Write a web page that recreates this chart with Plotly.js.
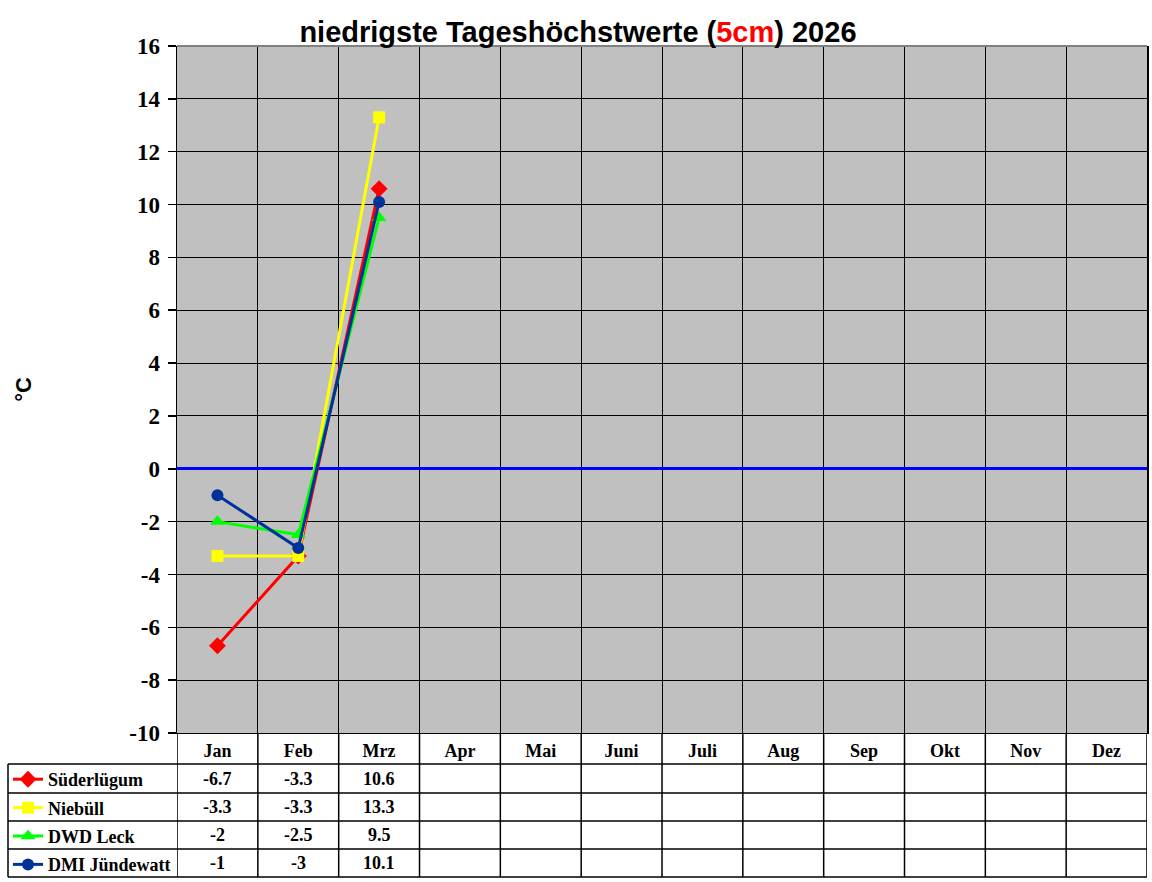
<!DOCTYPE html>
<html>
<head>
<meta charset="utf-8">
<script src="https://cdn.plot.ly/plotly-3.0.1.min.js"></script>
<style>
  html, body { margin: 0; padding: 0; background: #fff; }
  #plot { width: 1152px; height: 882px; }
</style>
</head>
<body>
<div id="plot"></div>
<script>
// months shown on the x axis / table header
const months = ['Jan', 'Feb', 'Mrz', 'Apr', 'Mai', 'Juni', 'Juli', 'Aug', 'Sep', 'Okt', 'Nov', 'Dez'];

// y axis ticks (labels use a plain hyphen like the original)
const yTickVals = [-10, -8, -6, -4, -2, 0, 2, 4, 6, 8, 10, 12, 14, 16];
const yTickText = ['-10', '-8', '-6', '-4', '-2', '0', '2', '4', '6', '8', '10', '12', '14', '16'];

// lowest daily maximum (5cm) per month, null = no data yet
const suederluegum = [-6.7, -3.3, 10.6, null, null, null, null, null, null, null, null, null];
const niebuell     = [-3.3, -3.3, 13.3, null, null, null, null, null, null, null, null, null];
const dwdLeck      = [-2, -2.5, 9.5, null, null, null, null, null, null, null, null, null];
const dmiJuendewatt = [-1, -3, 10.1, null, null, null, null, null, null, null, null, null];

const stations = [
    { name: 'Süderlügum', values: suederluegum, color: '#FF0000', symbol: 'diamond', size: 13 },
    { name: 'Niebüll', values: niebuell, color: '#FFFF00', symbol: 'square', size: 12 },
    { name: 'DWD Leck', values: dwdLeck, color: '#00FF00', symbol: 'triangle-up', size: 13 },
    { name: 'DMI Jündewatt', values: dmiJuendewatt, color: '#003399', symbol: 'circle', size: 12 }
];

const serif = 'Liberation Serif, Times New Roman, serif';
const sans = 'Liberation Sans, Arial, sans-serif';

// plot area geometry in paper coords (margins l=8, r=5, t=46, b=5)
const plotBottom = 0.17329;                               // y of the -10 line
const rowLines = [0.13598, 0.10108, 0.06739, 0.03369, 0];  // table row borders
const rowCenters = [0.11853, 0.08424, 0.05054, 0.01685];

let traces = stations.map((s, i) => ({
    x: months,
    y: s.values,
    type: 'scatter',
    mode: 'lines+markers',
    name: s.name,
    legendgroup: 'g' + i,
    line: { color: s.color, width: 3 },
    marker: { color: s.color, symbol: s.symbol, size: s.size },
    connectgaps: false,
    cliponaxis: false
}));

let shapes = [];
// horizontal table lines
rowLines.forEach(y => {
    shapes.push({ type: 'line', xref: 'paper', yref: 'paper', x0: 0, x1: 1, y0: y, y1: y,
        line: { color: '#000', width: 1.5 } });
});
// vertical lines through the table (month boundaries)
for (let k = 0; k <= months.length; k++) {
    shapes.push({ type: 'line', xref: 'x', yref: 'paper', x0: k - 0.5, x1: k - 0.5,
        y0: 0, y1: plotBottom, line: { color: '#000', width: 1.5 } });
}
// left border of legend column
shapes.push({ type: 'line', xref: 'paper', yref: 'paper', x0: 0, x1: 0, y0: 0, y1: rowLines[0],
    line: { color: '#000', width: 1.5 } });
// grey top border of the plot
shapes.push({ type: 'line', xref: 'paper', yref: 'paper', x0: 0.1484, x1: 1, y0: 1, y1: 1,
    line: { color: '#808080', width: 2 } });

// table values
let annotations = [];
stations.forEach((s, r) => {
    s.values.forEach((v, c) => {
        if (v === null) return;
        annotations.push({
            xref: 'x', yref: 'paper', x: months[c], y: rowCenters[r],
            text: String(v), showarrow: false, yanchor: 'middle',
            font: { family: serif, size: 18, color: '#000', weight: 'bold' }
        });
    });
});

const layout = {
    width: 1152,
    height: 882,
    margin: { l: 8, r: 5, t: 46, b: 5, autoexpand: false },
    paper_bgcolor: '#fff',
    plot_bgcolor: '#C0C0C0',
    title: {
        text: 'niedrigste Tageshöchstwerte (<span style="color:#FF0000">5cm</span>) 2026',
        font: { family: sans, size: 29, color: '#000', weight: 'bold' },
        xref: 'container', yref: 'container', x: 0.5017, y: 0.964,
        xanchor: 'center', yanchor: 'middle'
    },
    xaxis: {
        type: 'category',
        categoryorder: 'array',
        categoryarray: months,
        range: [-0.5, 11.5],
        domain: [0.1484, 1],
        tickson: 'boundaries',
        showgrid: true,
        gridcolor: '#000',
        gridwidth: 1,
        ticks: '',
        showline: true,
        linecolor: '#000',
        linewidth: 1.5,
        tickfont: { family: serif, size: 18, color: '#000', weight: 'bold' },
        ticklabelstandoff: 1,
        fixedrange: true
    },
    yaxis: {
        range: [-10, 16],
        domain: [plotBottom, 1],
        tickmode: 'array',
        tickvals: yTickVals,
        ticktext: yTickText,
        showgrid: true,
        gridcolor: '#000',
        gridwidth: 1,
        zeroline: true,
        zerolinecolor: '#0000FF',
        zerolinewidth: 3,
        ticks: 'outside',
        ticklen: 8,
        tickcolor: '#000',
        tickwidth: 1.5,
        showline: true,
        mirror: true,
        linecolor: '#000',
        linewidth: 1.5,
        tickfont: { family: serif, size: 23, color: '#000', weight: 'bold' },
        ticklabelstandoff: 3,
        title: {
            text: '°C',
            font: { family: sans, size: 22, color: '#000', weight: 'bold' },
            standoff: 91
        },
        automargin: false,
        fixedrange: true
    },
    showlegend: true,
    legend: {
        x: 0, xanchor: 'left',
        y: 0.1396, yanchor: 'top',
        bgcolor: 'rgba(0,0,0,0)',
        borderwidth: 0,
        traceorder: 'grouped',
        tracegroupgap: 2,
        itemwidth: 30,
        font: { family: serif, size: 18, color: '#000', weight: 'bold' }
    },
    shapes: shapes,
    annotations: annotations
};

Plotly.newPlot('plot', traces, layout, { displayModeBar: false, staticPlot: true });
</script>
</body>
</html>
